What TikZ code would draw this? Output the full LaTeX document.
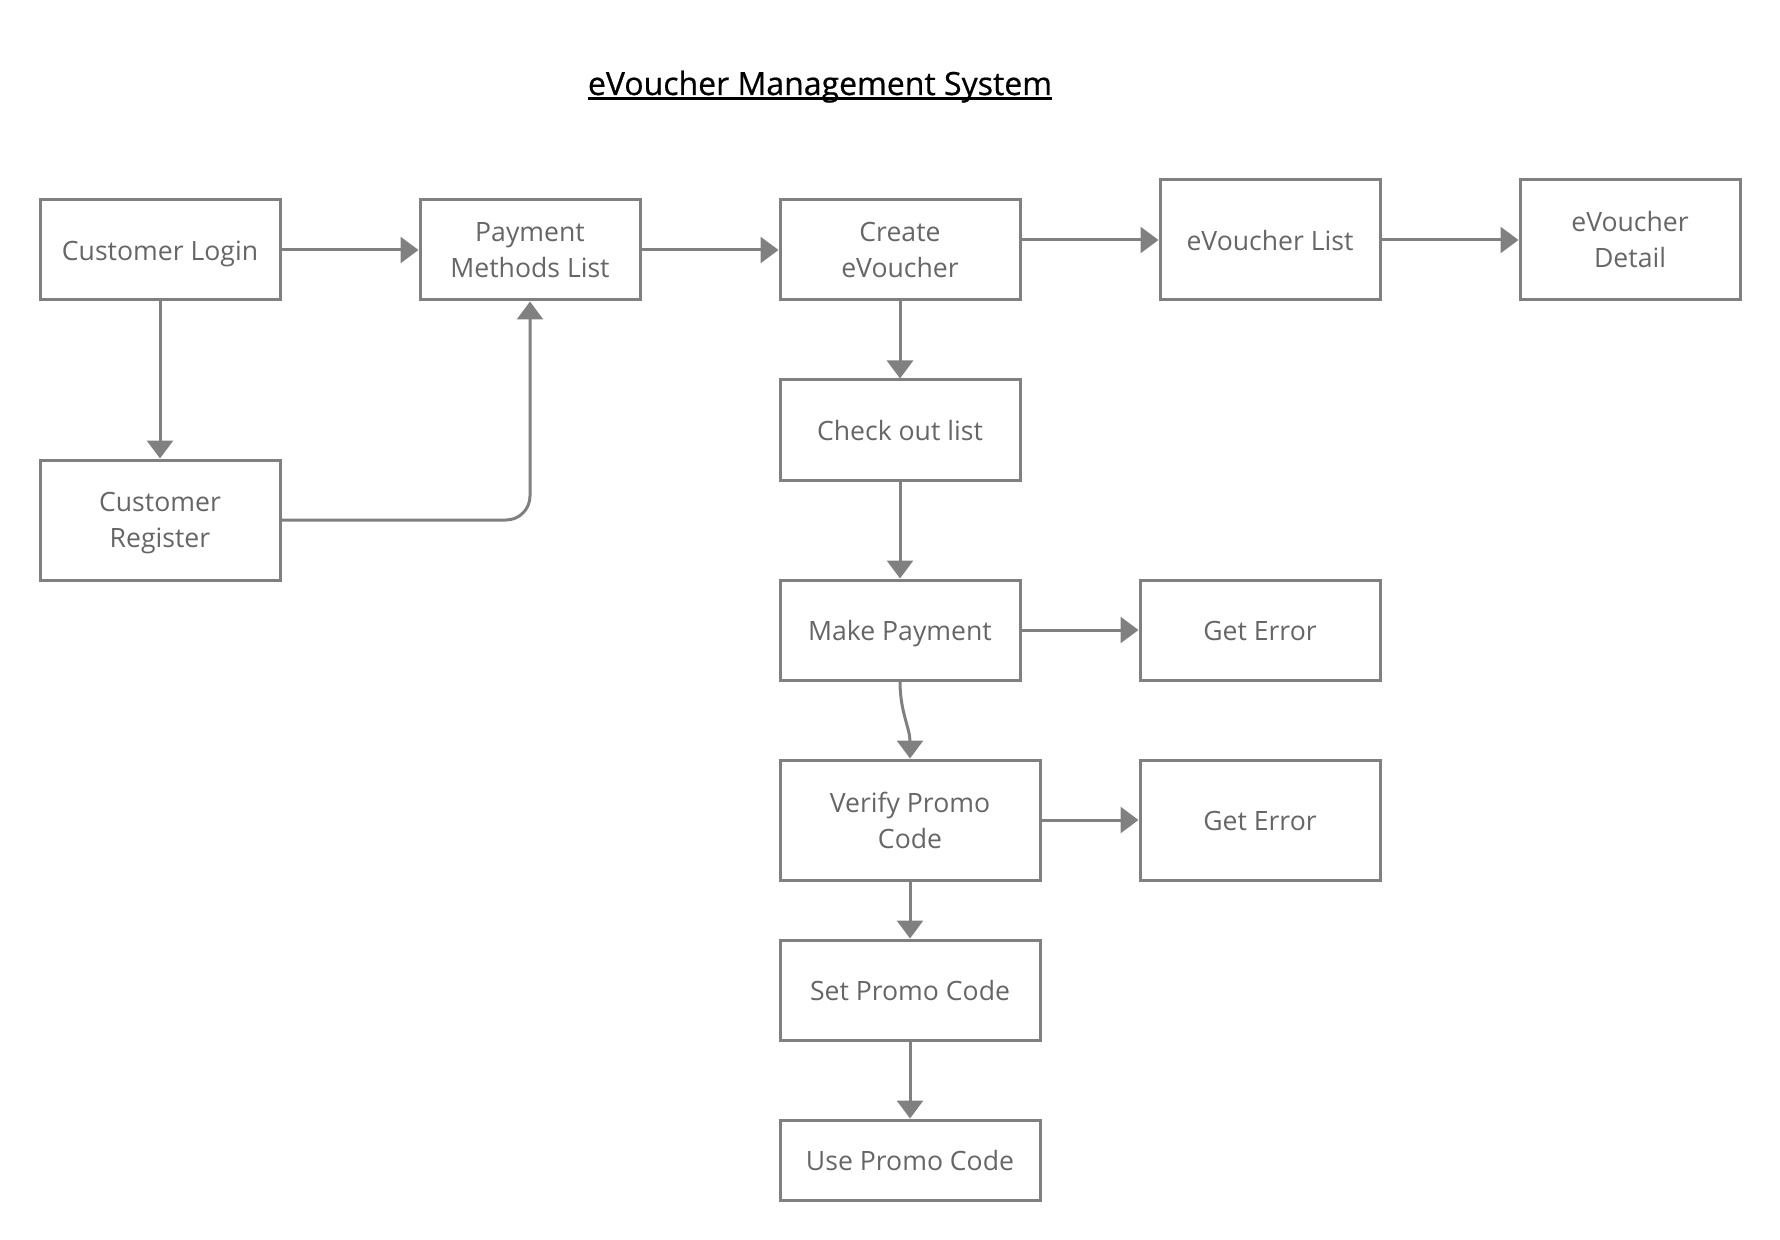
\documentclass[tikz,border=0pt]{standalone}
\usepackage{fontspec}
\setmainfont{Open Sans}
\newfontfamily\titlefont{Open Sans}[FakeBold=0.6]
\usetikzlibrary{arrows.meta,positioning}

\definecolor{linegray}{RGB}{128,128,128}
\definecolor{textgray}{RGB}{102,102,102}

\tikzset{
  box/.style={draw=linegray, line width=1.5pt, rectangle, align=center,
    text=textgray, font=\fontsize{13.3}{18}\selectfont},
  single/.style={box, text height=14.1pt, text depth=3.9pt},
  flow/.style={draw=linegray, line width=1.5pt,
    -{Triangle[length=9pt,width=13pt]}}
}

\begin{document}
\begin{tikzpicture}[x=0.5pt, y=-0.5pt]
  \useasboundingbox (0,0) rectangle (1780,1240);

  % 标题
  \node[anchor=base, inner sep=0pt, font=\titlefont\fontsize{16}{20}\selectfont] (title) at (820,95) {eVoucher Management System};
  \draw[line width=1.35pt] ([yshift=-1.6pt]title.base west) -- ([yshift=-1.6pt]title.base east);

  % 第一行
  \node[single, minimum width=120pt, minimum height=50pt] (login) at (160,250) {Customer Login};
  \node[box, minimum width=110pt, minimum height=50pt] (payment) at (530,250) {Payment\\Methods List};
  \node[box, minimum width=120pt, minimum height=50pt] (create) at (900,250) {Create\\eVoucher};
  \node[single, minimum width=110pt, minimum height=60pt] (vlist) at (1270,240) {eVoucher List};
  \node[box, minimum width=110pt, minimum height=60pt] (vdetail) at (1630,240) {eVoucher\\Detail};

  % 左侧注册
  \node[box, minimum width=120pt, minimum height=60pt, text depth=0pt] (register) at (160,520) {Customer\\Register};

  % 中间流程
  \node[single, minimum width=120pt, minimum height=50pt] (checkout) at (900,430) {Check out list};
  \node[single, minimum width=120pt, minimum height=50pt] (makepay) at (900,630) {Make Payment};
  \node[box, minimum width=130pt, minimum height=60pt] (verify) at (910,820) {Verify Promo\\Code};
  \node[single, minimum width=130pt, minimum height=50pt] (setpromo) at (910,990) {Set Promo Code};
  \node[single, minimum width=130pt, minimum height=40pt] (usepromo) at (910,1160) {Use Promo Code};

  % 错误
  \node[single, minimum width=120pt, minimum height=50pt] (err1) at (1260,630) {Get Error};
  \node[single, minimum width=120pt, minimum height=60pt] (err2) at (1260,820) {Get Error};

  % 连线
  \draw[flow] (login) -- (payment);
  \draw[flow] (payment) -- (create);
  \draw[flow] (create.east |- vlist.west) -- (vlist);
  \draw[flow] (vlist) -- (vdetail);
  \draw[flow] (login) -- (register);
  \draw[flow, rounded corners=12pt] (register.east) -| (payment.south);
  \draw[flow] (create) -- (checkout);
  \draw[flow] (checkout) -- (makepay);
  \draw[flow] (makepay) -- (err1);
  \draw[flow] (makepay.south) to[out=-90, in=90] (verify.north);
  \draw[flow] (verify.east |- err2.west) -- (err2);
  \draw[flow] (verify) -- (setpromo);
  \draw[flow] (setpromo) -- (usepromo);
\end{tikzpicture}
\end{document}
